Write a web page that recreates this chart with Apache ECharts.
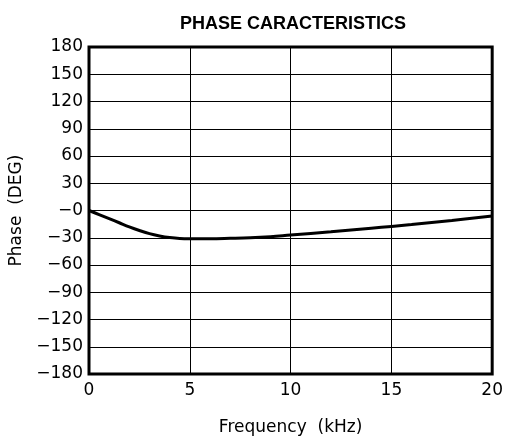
<!DOCTYPE html>
<html>
<head>
<meta charset="utf-8">
<script src="https://cdn.jsdelivr.net/npm/echarts@6/dist/echarts.min.js"></script>
<style>
  html, body { margin: 0; padding: 0; background: #fff; }
  #chart { width: 506px; height: 441px; }
</style>
</head>
<body>
<div id="chart"></div>
<script>
// Phase response of the device, frequency in kHz vs phase in degrees
const frequencyKHz = [0, 0.5, 1, 1.5, 2, 2.5, 3, 3.5, 4, 4.5, 5, 6, 7, 8, 9, 10, 12, 14, 15, 16, 18, 20];
const phaseDeg     = [0, -4.5, -9, -13.5, -18, -22, -25.5, -28, -29.8, -30.8, -31, -31, -30.6, -30, -28.8, -27, -23.5, -19.5, -17.5, -15.5, -11, -6];

const xTicks = [0, 5, 10, 15, 20];
const yTicks = [180, 150, 120, 90, 60, 30, 0, -30, -60, -90, -120, -150, -180];

const labelFont = 'DejaVu Sans, Verdana, sans-serif';
const titleFont = 'Liberation Sans, Arial, sans-serif';

function phaseLabel(v) {
  if (v > 0) return String(v);
  return '\u2212' + Math.abs(v);
}

const chart = echarts.init(document.getElementById('chart'), null, { renderer: 'canvas' });

chart.setOption({
  animation: false,
  backgroundColor: '#fff',
  title: {
    text: 'PHASE CARACTERISTICS',
    left: 175,
    top: 10,
    textStyle: { fontFamily: titleFont, fontSize: 18, fontWeight: 'bold', color: '#000' }
  },
  grid: {
    left: 89, right: 13, top: 47, bottom: 65,
    show: true, borderColor: '#000', borderWidth: 3, backgroundColor: 'transparent'
  },
  xAxis: {
    type: 'value',
    min: xTicks[0],
    max: xTicks[xTicks.length - 1],
    interval: 5,
    name: 'Frequency  (kHz)',
    nameLocation: 'middle',
    nameGap: 45,
    nameTextStyle: { fontFamily: labelFont, fontSize: 17, color: '#000' },
    axisLine: { show: false },
    axisTick: { show: false },
    axisLabel: { margin: 8, fontFamily: labelFont, fontSize: 17, color: '#000' },
    splitLine: { show: true, lineStyle: { color: '#000', width: 1 } }
  },
  yAxis: {
    type: 'value',
    min: yTicks[yTicks.length - 1],
    max: yTicks[0],
    interval: 30,
    name: 'Phase  (DEG)',
    nameLocation: 'middle',
    nameGap: 62,
    nameTextStyle: { fontFamily: labelFont, fontSize: 17, color: '#000' },
    axisLine: { show: false },
    axisTick: { show: false },
    axisLabel: { margin: 6, fontFamily: labelFont, fontSize: 17, color: '#000', formatter: phaseLabel },
    splitLine: { show: true, lineStyle: { color: '#000', width: 1 } }
  },
  series: [{
    type: 'line',
    data: frequencyKHz.map((f, i) => [f, phaseDeg[i]]),
    smooth: 0.4,
    showSymbol: false,
    lineStyle: { color: '#000', width: 3 }
  }]
});
</script>
</body>
</html>
